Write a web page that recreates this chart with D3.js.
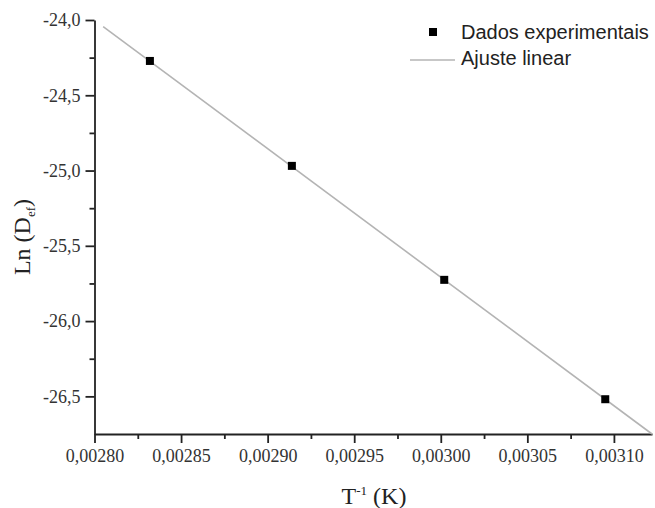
<!DOCTYPE html>
<html>
<head>
<meta charset="utf-8">
<script src="https://cdn.jsdelivr.net/npm/d3@7"></script>
<style>
  body { margin: 0; background: #fff; }
  svg { display: block; }
</style>
</head>
<body>
<div class="chart"></div>
<script>
// data (1/T in K^-1, ln of D_ef)
var invT = [0.002832, 0.002914, 0.003002, 0.003095];
var lnDef = [-24.272, -24.969, -25.726, -26.519];

// linear fit drawn as a straight segment between two ends
var fitX = [0.002805, 0.003122];
var fitY = [-24.044, -26.75];

var xTicks = [0.00280, 0.00285, 0.00290, 0.00295, 0.00300, 0.00305, 0.00310];
var xMinor = [0.002825, 0.002875, 0.002925, 0.002975, 0.003025, 0.003075];
var yTicks = [-24.0, -24.5, -25.0, -25.5, -26.0, -26.5];
var yMinor = [-24.25, -24.75, -25.25, -25.75, -26.25];

var legendLabels = ["Dados experimentais", "Ajuste linear"];

var w = 655, h = 508;
// plot edges (don't call it "top", window.top is read-only)
var mLeft = 94.5, mRight = 652, mTop = 20, mBottom = 434;

var svg = d3.select(".chart").append("svg")
  .attr("width", w).attr("height", h);

svg.append("rect").attr("width", w).attr("height", h).attr("fill", "#fff");

// decimal comma and plain hyphen, like the original
var loc = d3.formatLocale({decimal: ",", thousands: ".", grouping: [3], currency: ["", ""], minus: "-"});

var x = d3.scaleLinear().domain([0.0028, 0.003122]).range([mLeft, mRight]);
var y = d3.scaleLinear().domain([-26.75, -24.0]).range([mBottom, mTop]);

var axisColor = "#222";
var tickFont = "'Liberation Serif', 'Times New Roman', serif";

// x axis
var gx = svg.append("g").attr("transform", "translate(0," + mBottom + ")");
gx.call(d3.axisBottom(x).tickValues(xTicks).tickFormat(loc.format(".5f"))
  .tickSizeInner(9).tickSizeOuter(0).tickPadding(6));
var gxm = svg.append("g").attr("transform", "translate(0," + mBottom + ")");
gxm.call(d3.axisBottom(x).tickValues(xMinor).tickFormat("").tickSizeInner(5).tickSizeOuter(0));
gxm.select(".domain").remove();

// y axis
var gy = svg.append("g").attr("transform", "translate(" + mLeft + ",0)");
gy.call(d3.axisLeft(y).tickValues(yTicks).tickFormat(loc.format(".1f"))
  .tickSizeInner(9).tickSizeOuter(0).tickPadding(5));
var gym = svg.append("g").attr("transform", "translate(" + mLeft + ",0)");
gym.call(d3.axisLeft(y).tickValues(yMinor).tickFormat("").tickSizeInner(5).tickSizeOuter(0));
gym.select(".domain").remove();

// serif tick labels, set on the groups too so the axis defaults don't win
gx.attr("font-family", tickFont).attr("font-size", 18);
gy.attr("font-family", tickFont).attr("font-size", 18);

svg.selectAll(".domain, .tick line")
  .attr("stroke", axisColor).attr("stroke-width", 1.8);
svg.selectAll(".tick text")
  .attr("fill", "#333")
  .attr("font-family", tickFont)
  .attr("font-size", 18);

// fit line
var fit = fitX.map(function(d, i) { return [d, fitY[i]]; });
svg.append("path")
  .datum(fit)
  .attr("d", d3.line().x(function(d) { return x(d[0]); }).y(function(d) { return y(d[1]); }))
  .attr("fill", "none")
  .attr("stroke", "#b4b4b4")
  .attr("stroke-width", 1.6);

// data points
var s = 8;
svg.selectAll("rect.pt")
  .data(invT)
  .enter()
  .append("rect")
  .attr("class", "pt")
  .attr("x", function(d) { return x(d) - s / 2; })
  .attr("y", function(d, i) { return y(lnDef[i]) - s / 2; })
  .attr("width", s).attr("height", s)
  .attr("fill", "#000");

// legend
var lg = svg.append("g").style("font-family", "'Liberation Sans', Arial, sans-serif")
  .style("font-size", "20px").attr("fill", "#222");
lg.append("rect").attr("x", 429).attr("y", 28).attr("width", 8).attr("height", 8).attr("fill", "#000");
lg.append("text").attr("x", 461).attr("y", 39).text(legendLabels[0]);
lg.append("line").attr("x1", 410).attr("x2", 455).attr("y1", 60).attr("y2", 60)
  .attr("stroke", "#b4b4b4").attr("stroke-width", 1.6);
lg.append("text").attr("x", 461).attr("y", 65).text(legendLabels[1]);

// axis titles
var xt = svg.append("text")
  .attr("x", 374).attr("y", 504)
  .attr("text-anchor", "middle")
  .style("font-family", tickFont).style("font-size", "24px").attr("fill", "#222");
xt.append("tspan").text("T");
xt.append("tspan").attr("dy", -9).style("font-size", "13px").text("-1");
xt.append("tspan").attr("dy", 9).text(" (K)");

var yt = svg.append("text")
  .attr("transform", "translate(30,237) rotate(-90)")
  .attr("text-anchor", "middle")
  .style("font-family", tickFont).style("font-size", "24px").attr("fill", "#222");
yt.append("tspan").text("Ln (D");
yt.append("tspan").attr("dy", 5).style("font-size", "13px").text("ef");
yt.append("tspan").attr("dy", -5).text(")");
</script>
</body>
</html>
